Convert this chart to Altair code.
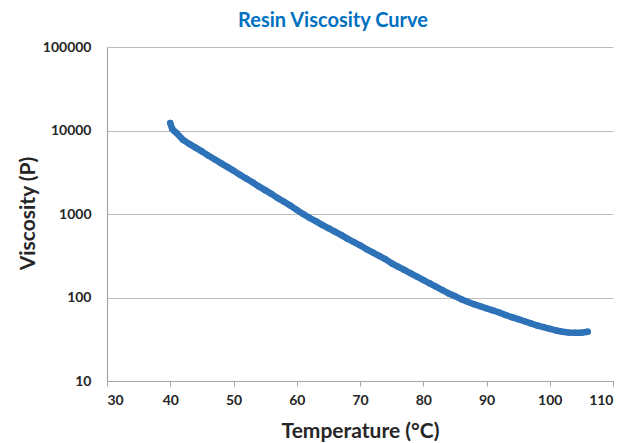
import altair as alt
import pandas as pd

temperature = [40, 40.3, 40.6, 41, 42, 43, 44, 45, 46, 47, 48, 49, 50, 51, 52, 53, 54, 55,
               56, 57, 58, 59, 60, 61, 62, 63, 64, 65, 66, 67, 68, 69, 70, 71, 72, 73,
               74, 75, 76, 77, 78, 79, 80, 81, 82, 83, 84, 85, 86, 87, 88, 89, 90, 91,
               92, 93, 94, 95, 96, 97, 98, 99, 100, 101, 102, 103, 104, 105, 106]
viscosity = [12300, 10500, 9900, 9330, 7760, 6920, 6240, 5620, 5010, 4520, 4070, 3670,
             3310, 2950, 2660, 2400, 2140, 1930, 1740, 1550, 1400, 1260, 1120, 1000,
             900, 822, 741, 676, 617, 562, 507, 462, 422, 380, 347, 316, 288, 257, 234,
             214, 195, 178, 162, 148, 135, 123, 112, 104, 95.5, 89.1, 83.2, 78.5, 74.1,
             70.0, 66.1, 61.7, 58.2, 55.0, 51.9, 49.0, 46.2, 44.2, 42.2, 40.3, 38.9,
             38.0, 37.8, 37.8, 38.9]
x_ticks = [30, 40, 50, 60, 70, 80, 90, 100, 110]
y_ticks = [10, 100, 1000, 10000, 100000]

df = pd.DataFrame({"T": temperature, "V": viscosity})

FONT = "Lato"
BLUE = "#2E72B8"

x_enc = alt.X("T:Q", scale=alt.Scale(domain=[30, 110], nice=False),
              axis=alt.Axis(values=x_ticks, title="Temperature (°C)", grid=False,
                            tickSize=5, labelPadding=7, titleY=50,
                            titleBaseline="middle"))
y_enc = alt.Y("V:Q", scale=alt.Scale(type="log", domain=[10, 100000], nice=False),
              axis=alt.Axis(values=y_ticks, title="Viscosity (P)", grid=True, ticks=False,
                            labelPadding=16, format="d", titleX=-79, titleY=166,
                            titleBaseline="middle", titleAlign="center"))

line = alt.Chart(df).mark_line(color=BLUE, strokeWidth=6.5, strokeCap="round",
                               strokeJoin="round").encode(x=x_enc, y=y_enc)
pts = alt.Chart(df).mark_circle(color=BLUE, size=40, opacity=1).encode(x=x_enc, y=y_enc)

chart = (line + pts).properties(
    width=506, height=334,
    padding={"left": 99, "top": 39, "right": 17, "bottom": 62},
    autosize=alt.AutoSizeParams(type="none"),
    title=alt.TitleParams("Resin Viscosity Curve", color="#0070C0", font=FONT,
                          fontSize=20, fontWeight="bold", anchor="middle", dx=-27,
                          offset=9),
).configure_view(stroke=None).configure_axis(
    labelFont=FONT, labelFontSize=14, labelFontWeight="bold", labelColor="#262626",
    titleFont=FONT, titleFontSize=21, titleFontWeight="bold", titleColor="#262626",
    domainColor="#A6A6A6", tickColor="#A6A6A6", gridColor="#BDBDBD", gridWidth=1.2,
    domainWidth=1.2,
)

chart.save("out.html", embed_options={"renderer": "svg", "actions": False})
